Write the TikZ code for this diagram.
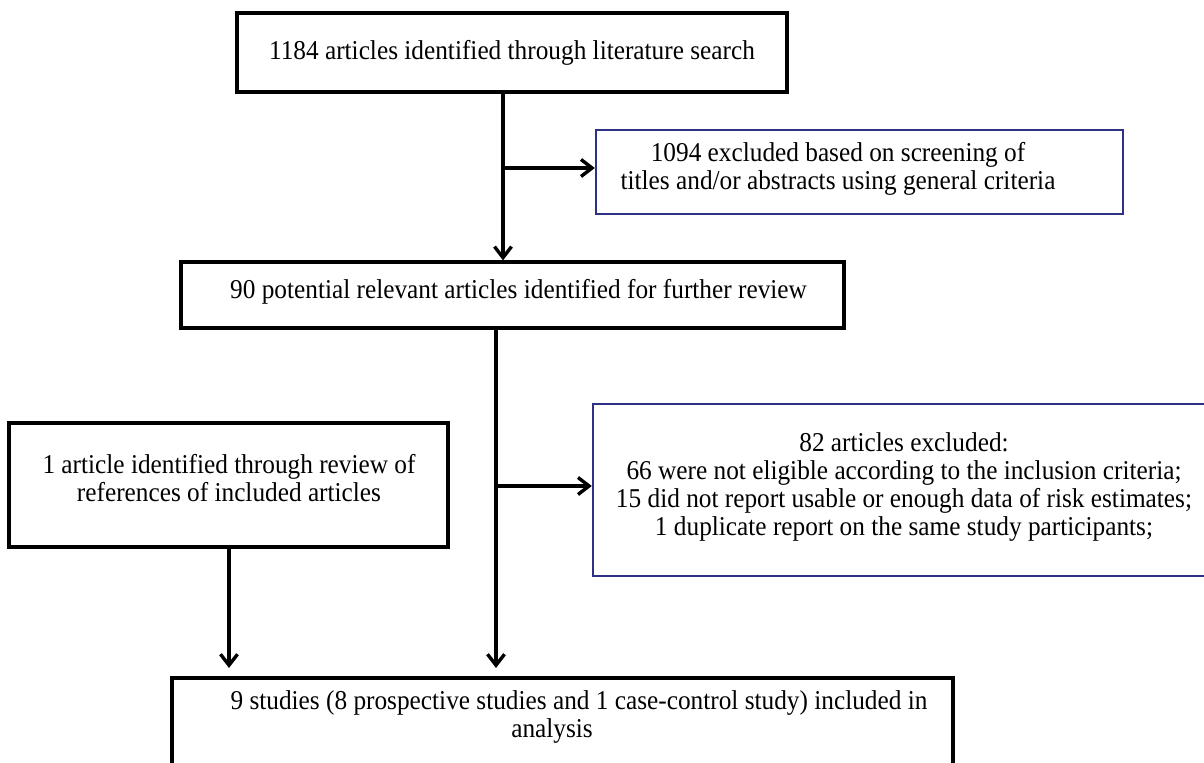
\documentclass[tikz,border=0pt]{standalone}
\usepackage{fontspec}
\setmainfont{Liberation Serif}
\usetikzlibrary{arrows.meta}
\definecolor{navy}{RGB}{46,50,132}
\tikzset{
  blackbox/.style={draw=black, line width=1.6pt, rectangle, inner sep=0pt},
  navybox/.style={draw=navy, line width=1.2pt, rectangle, inner sep=0pt},
  label/.style={align=center, inner sep=0pt, xscale=0.93, transform shape, font=\fontsize{13.6}{14}\selectfont},
  arr/.style={line width=1.6pt, -{Straight Barb[length=5.5pt, width=8.5pt, line width=1.7pt]}}
}
\begin{document}
\begin{tikzpicture}[x=0.5pt, y=-0.5pt]
\useasboundingbox (0,0) rectangle (1204,763);
\clip (0,0) rectangle (1204,763);
% boxes
\node[blackbox, minimum width=275pt, minimum height=39.5pt] (b1) at (512,52.5) {};
\node[navybox, minimum width=263.5pt, minimum height=42pt] (b2) at (859.5,172) {};
\node[blackbox, minimum width=331.5pt, minimum height=33pt] (b3) at (512.5,295) {};
\node[blackbox, minimum width=219.5pt, minimum height=62pt] (b4) at (228.5,485) {};
\node[navybox, minimum width=307pt, minimum height=86pt] (b5) at (900,490) {};
\node[blackbox, minimum width=390.5pt, minimum height=56pt] (b6) at (562.5,734) {};
% texts
\node[label] (t1) at (512,53) {1184 articles identified through literature search};
\node[label] (t2) at (838,169) {1094 excluded based on screening of\\titles and/or abstracts using general criteria};
\node[label] (t3) at (518.5,292) {90 potential relevant articles identified for further review};
\node[label] (t4) at (229,478) {1 article identified through review of\\references of included articles};
\node[label] (t5) at (904,487) {82 articles excluded:\\66 were not eligible according to the inclusion criteria;\\15 did not report usable or enough data of risk estimates;\\1 duplicate report on the same study participants;};
\node[label] (t6) at (579,717) {9 studies (8 prospective studies and 1 case-control study) included in\\analysis\hspace*{29pt}};
% connector coordinates
\coordinate (x1) at (503,0);
\coordinate (j1) at (503,168);
\coordinate (x2) at (496,0);
\coordinate (j2) at (496,486);
\coordinate (x3) at (229,0);
\coordinate (e2) at (496,668);
\coordinate (e3) at (229,668);
% connectors
\draw[arr] (b1.south -| x1) -- (b3.north -| x1);
\draw[arr] (j1) -- (b2.west |- j1);
\draw[arr] (b3.south -| x2) -- (e2);
\draw[arr] (j2) -- (b5.west |- j2);
\draw[arr] (b4.south -| x3) -- (e3);
\end{tikzpicture}
\end{document}
